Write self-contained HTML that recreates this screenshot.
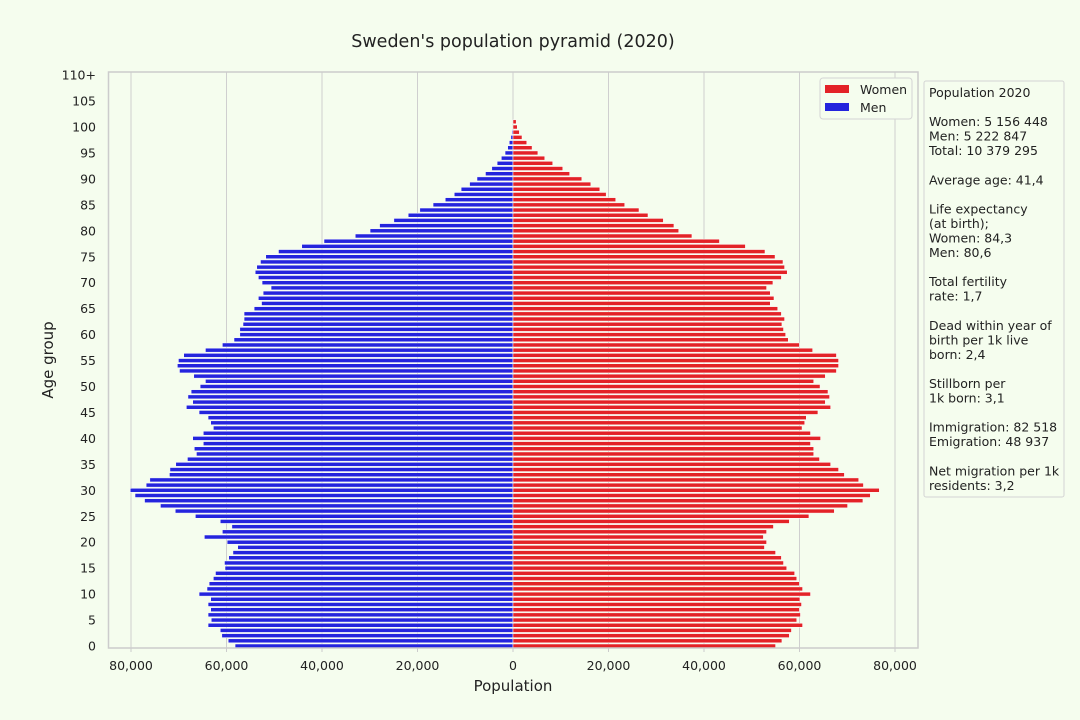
<!DOCTYPE html>
<html><head><meta charset="utf-8"><style>
body{margin:0;background:#f5fdee;}
svg{display:block;font-family:"DejaVu Sans","Liberation Sans",sans-serif;}
</style></head><body>
<svg id="s" width="1080" height="720" viewBox="0 0 1080 720">
<rect width="1080" height="720" fill="#f5fdee"/>
<text x="513" y="47" font-size="17.5" text-anchor="middle" fill="#222">Sweden's population pyramid (2020)</text>
<g id="grid" stroke="#cfcfcf" stroke-width="1"></g>
<g id="bars"></g>
<rect x="108.5" y="72" width="809.5" height="576" fill="none" stroke="#cccccc" stroke-width="1.5"/>
<g id="ticks" font-size="12.5" fill="#222"></g>
<text x="513" y="691" font-size="15" text-anchor="middle" fill="#222">Population</text>
<text transform="translate(53,360) rotate(-90)" font-size="15" text-anchor="middle" fill="#222">Age group</text>
<rect x="820" y="78" width="92" height="41" rx="3" fill="#f5fdee" stroke="#d4d4d4"/>
<rect x="825" y="85" width="24" height="8" fill="#e32227"/>
<rect x="825" y="103" width="24" height="8" fill="#2424dd"/>
<text x="860" y="94" font-size="12.5" fill="#222">Women</text>
<text x="860" y="112" font-size="12.5" fill="#222">Men</text>
<rect x="924" y="81" width="140" height="416" rx="2" fill="#f5fdee" stroke="#d4d4d4"/>
<g id="info" font-size="12.5" fill="#222"></g>
</svg>
<script>
var NS="http://www.w3.org/2000/svg";
function el(t,a,p,txt){var e=document.createElementNS(NS,t);for(var k in a)e.setAttribute(k,a[k]);if(txt!=null)e.textContent=txt;document.getElementById(p).appendChild(e);return e;}
var low=[[255,1276],[242,1288],[230,1302],[227,1306],[204,1327],[210,1316],[204,1323],[209,1321],[204,1325],[209,1322],[187,1342],[202,1327],[206,1321],[214,1316],[218,1312],[236,1297],[235,1291],[243,1287],[251,1276],[260,1255],[240,1259],[197,1253],[231,1259],[249,1272],[227,1302],[180,1339],[142,1387],[114,1412],[84,1441],[66,1455],[57,1472],[87,1442],[94,1433],[131,1406],[132,1395],[143,1380],[165,1359],[182,1348],[178,1348],[195,1342],[175,1361],[195,1342],[214,1326],[209,1331],[204,1334],[187,1356],[163,1380],[175,1370],[166,1378],[172,1375],[189,1360],[199,1348],[177,1370],[150,1391],[146,1395],[148,1395],[158,1391],[199,1346]];
var high=[[780,786],[781,788],[778,792],[776,797],[773,806],[770,816],[765,827],[758,840],[750,855],[740,874],[728,887],[712,910],[698,927],[682,944],[669,956],[652,974],[629,991],[604,1018],[582,1035],[555,1064],[528,1084],[510,1093],[482,1118],[423,1170],[381,1219],[337,1256],[313,1275],[303,1290],[296,1293],[293,1298],[299,1287],[306,1271],[323,1259],[308,1266],[299,1273],[305,1266],[291,1280],[272,1287],[272,1293],[270,1288],[264,1291],[264,1295],[253,1300],[231,1321]];
var data=low.slice();
for(var i=high.length-1;i>=0;i--)data.push(high[i]);
var Z=513,S=1/1.889;
for(var a=0;a<data.length;a++){
  var yc=646-a*5.19;
  var l=Z-(780-data[a][0])*S, r=Z+(data[a][1]-780)*S;
  if(Z-l>0.3)el('rect',{x:l,y:yc-2,width:Z-l,height:4,fill:'#2424dd',stroke:'#fff','stroke-width':0.5},'bars');
  if(r-Z>0.3)el('rect',{x:Z,y:yc-2,width:r-Z,height:4,fill:'#e32227',stroke:'#fff','stroke-width':0.5},'bars');
}
var k=0.004775;
for(var v=-80000;v<=80000;v+=20000){
  var x=Z+v*k;
  el('line',{x1:x,y1:72,x2:x,y2:648},'grid');
  el('line',{x1:x,y1:648,x2:x,y2:652,stroke:'#cccccc'},'ticks');
  var s=Math.abs(v).toLocaleString('en-US');
  el('text',{x:x,y:670,'text-anchor':'middle'},'ticks',s);
}
for(var a=0;a<=110;a+=5){
  var y=646-a*5.19;
  el('text',{x:96,y:y+4.5,'text-anchor':'end'},'ticks',a==110?'110+':String(a));
}
var lines=["Population 2020","","Women: 5 156 448","Men: 5 222 847","Total: 10 379 295","","Average age: 41,4","","Life expectancy","(at birth);","Women: 84,3","Men: 80,6","","Total fertility","rate: 1,7","","Dead within year of","birth per 1k live","born: 2,4","","Stillborn per","1k born: 3,1","","Immigration: 82 518","Emigration: 48 937","","Net migration per 1k","residents: 3,2"];
for(var i=0;i<lines.length;i++){ if(lines[i])el('text',{x:929,y:97+i*14.55},'info',lines[i]); }
</script>
</body></html>
